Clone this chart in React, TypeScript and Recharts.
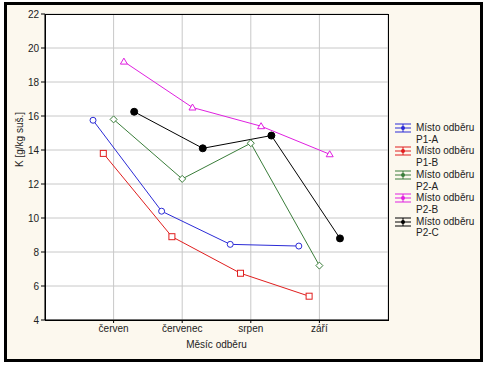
import React from 'react';
import { LineChart, Line, XAxis, YAxis, CartesianGrid } from 'recharts';

const months = ['červen', 'červenec', 'srpen', 'září'];
const seriesNames = ['P1-A', 'P1-B', 'P2-A', 'P2-B', 'P2-C'];
const p1a = [15.75, 10.4, 8.45, 8.35];
const p1b = [13.8, 8.9, 6.75, 5.4];
const p2a = [15.8, 12.3, 14.4, 7.2];
const p2b = [19.2, 16.5, 15.4, 13.75];
const p2c = [16.25, 14.1, 14.85, 8.8];
const yTicks = [4, 6, 8, 10, 12, 14, 16, 18, 20, 22];

const COLORS = ['#2b2bd6', '#e01e1e', '#3a7d3a', '#e020e0', '#000000'];
const SHAPES = ['circle', 'square', 'diamond', 'triangle', 'dot'];
const FONT = '"Liberation Sans", Arial, sans-serif';

const allValues = [p1a, p1b, p2a, p2b, p2c];

// each series is shifted a little sideways inside its month, like Statistica does
const series = seriesNames.map((name, s) => ({
  name,
  color: COLORS[s],
  shape: SHAPES[s],
  data: months.map((m, i) => ({ x: i + 1 + (s - 2) * 0.15, y: allValues[s][i] })),
}));

const Marker = ({ cx, cy, shape, color }: any) => {
  if (cx == null || cy == null) return null;
  if (shape === 'circle') return <circle cx={cx} cy={cy} r={3} fill="#fff" stroke={color} strokeWidth={1} />;
  if (shape === 'square') return <rect x={cx - 3} y={cy - 3} width={6} height={6} fill="#fff" stroke={color} strokeWidth={1} />;
  if (shape === 'diamond')
    return <polygon points={`${cx},${cy - 3.5} ${cx + 3.5},${cy} ${cx},${cy + 3.5} ${cx - 3.5},${cy}`} fill="#fff" stroke={color} strokeWidth={1} />;
  if (shape === 'triangle')
    return <polygon points={`${cx},${cy - 3.5} ${cx + 3.5},${cy + 2.5} ${cx - 3.5},${cy + 2.5}`} fill="#fff" stroke={color} strokeWidth={1} />;
  return <circle cx={cx} cy={cy} r={3.5} fill={color} stroke={color} />;
};

const LegendBox = () => (
  <div style={{ fontFamily: FONT, fontSize: 10, color: '#222', lineHeight: '11.7px' }}>
    {series.map((s) => (
      <div key={s.name} style={{ display: 'flex', alignItems: 'flex-start' }}>
        <svg width={20} height={12} style={{ marginRight: 2 }}>
          <line x1={1} y1={2} x2={17} y2={2} stroke={s.color} />
          <line x1={1} y1={6} x2={17} y2={6} stroke={s.color} />
          <line x1={1} y1={10} x2={17} y2={10} stroke={s.color} />
          <line x1={9} y1={2} x2={9} y2={10} stroke={s.color} />
          <circle cx={9} cy={6} r={2} fill={s.shape === 'dot' ? '#000' : s.color} />
        </svg>
        <div>
          <div>Místo odběru</div>
          <div>{s.name}</div>
        </div>
      </div>
    ))}
  </div>
);

export default function App() {
  return (
    <div style={{ position: 'fixed', left: 0, top: 0, width: 489, height: 369, background: '#fff' }}>
      <div
        style={{
          position: 'absolute',
          left: 4,
          top: 2,
          width: 473,
          height: 354,
          border: '3px solid #000',
          background: '#fcf8ee',
        }}
      />
      <div style={{ position: 'absolute', left: 0, top: 0 }}>
        <LineChart width={489} height={369} margin={{ top: 14, right: 101, bottom: 19, left: 0 }}>
          <CartesianGrid fill="#fff" stroke="#c8c8c8" />
          <XAxis
            type="number"
            dataKey="x"
            domain={[0, 5]}
            ticks={[1, 2, 3, 4]}
            tickFormatter={(v: number) => months[v - 1]}
            height={30}
            tickSize={3}
            tickLine={{ stroke: '#000' }}
            axisLine={{ stroke: '#000' }}
            tick={{ fill: '#222', fontSize: 10, fontFamily: FONT }}
            label={{ value: 'Měsíc odběru', position: 'insideBottom', offset: 2, fill: '#222', fontSize: 10, fontFamily: FONT }}
          />
          <YAxis
            type="number"
            domain={[4, 22]}
            ticks={yTicks}
            width={45}
            tickSize={4}
            tickLine={{ stroke: '#000' }}
            axisLine={{ stroke: '#000' }}
            tick={{ fill: '#222', fontSize: 10, fontFamily: FONT }}
            label={{ value: 'K [g/kg suš.]', angle: -90, position: 'insideLeft', offset: 19, fill: '#222', fontSize: 10, fontFamily: FONT }}
          />
          {series.map((s) => (
            <Line
              key={s.name}
              data={s.data}
              dataKey="y"
              name={s.name}
              stroke={s.color}
              strokeWidth={1}
              isAnimationActive={false}
              dot={(p: any) => <Marker key={p.index} cx={p.cx} cy={p.cy} shape={s.shape} color={s.color} />}
              activeDot={false}
            />
          ))}
        </LineChart>
      </div>
      <div
        style={{
          position: 'absolute',
          left: 45,
          top: 14,
          width: 342,
          height: 305,
          border: '1px solid #000',
          pointerEvents: 'none',
        }}
      />
      <div style={{ position: 'absolute', left: 394, top: 122 }}>
        <LegendBox />
      </div>
    </div>
  );
}
